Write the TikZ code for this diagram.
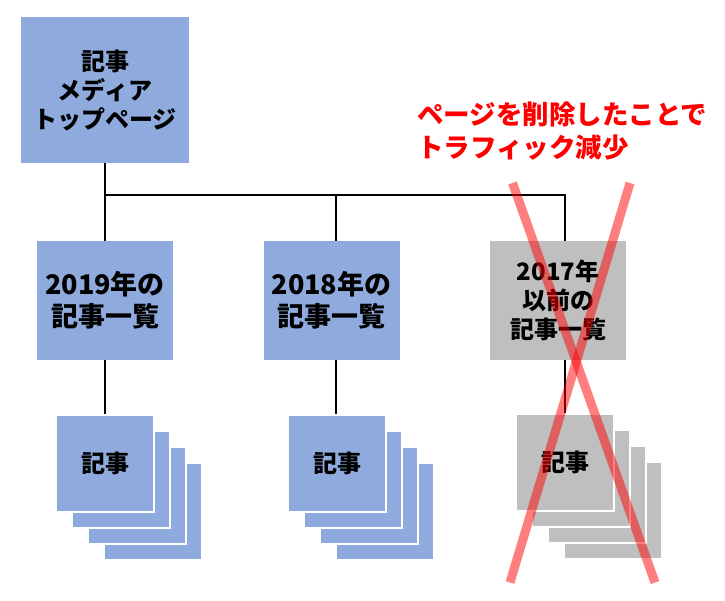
\documentclass[tikz,border=0pt]{standalone}
\usepackage{fontspec}
\setmainfont{Noto Sans CJK JP}
\definecolor{boxblue}{HTML}{8FAADC}
\definecolor{boxgray}{HTML}{BFBFBF}
\definecolor{xred}{HTML}{FF0000}
\begin{document}
\begin{tikzpicture}[x=1pt,y=-1pt,
  box/.style={fill=#1,draw=none,inner sep=0pt,align=center,font=\bfseries\fontsize{24}{29}\selectfont},
  sheet/.style={fill=#1,draw=white,line width=1.2pt,minimum width=98pt,minimum height=97pt,inner sep=0pt,font=\bfseries\fontsize{24}{29}\selectfont},
  conn/.style={draw=black,line width=2pt},
  cross/.style={draw=xred,opacity=0.5,line width=9pt}]
\useasboundingbox (0,0) rectangle (725,600);
% top node
\node[box=boxblue,minimum width=168pt,minimum height=146pt] (top) at (105,90) {記事\\メディア\\トップページ};
% middle nodes
\node[box=boxblue,minimum width=136pt,minimum height=119pt,font=\bfseries\fontsize{27}{32}\selectfont] (m1) at (105,300.5) {2019年の\\記事一覧};
\node[box=boxblue,minimum width=136pt,minimum height=119pt,font=\bfseries\fontsize{27}{32}\selectfont] (m2) at (331.5,300.5) {2018年の\\記事一覧};
\node[box=boxgray,minimum width=136pt,minimum height=119pt] (m3) at (558,300.5) {2017年\\以前の\\記事一覧};
% stacks
\foreach \cx/\cy/\col/\nm in {105/463.5/boxblue/a1, 337/463.5/boxblue/a2, 565/462.5/boxgray/a3}{
  \node[sheet=\col] (\nm c) at (\cx+48,\cy+48) {};
  \node[sheet=\col] (\nm b) at (\cx+32,\cy+32) {};
  \node[sheet=\col] (\nm a) at (\cx+16,\cy+16) {};
  \node[sheet=\col] (\nm) at (\cx,\cy) {記事};
}
% connectors
\coordinate (j1) at (105,195);
\coordinate (j2) at (336,195);
\coordinate (j3) at (565,195);
\draw[conn] (top.south) -- (m1.north);
\draw[conn] (j1) -- (j3) -- ([xshift=7pt]m3.north);
\draw[conn] (j2) -- ([xshift=4.5pt]m2.north);
\draw[conn] (m1.south) -- (a1.north);
\draw[conn] ([xshift=4.5pt]m2.south) -- ([xshift=-1pt]a2.north);
\draw[conn] ([xshift=7pt]m3.south) -- (a3.north);
% red text
\node[anchor=west,text=xred,align=left,inner sep=0pt,font=\bfseries\fontsize{26.5}{33}\selectfont] (note) at (417,131) {ページを削除したことで\\トラフィック減少};
% cross
\coordinate (x1) at (512.5,183);
\coordinate (x2) at (655,582.5);
\coordinate (x3) at (630,183);
\coordinate (x4) at (510,582.5);
\draw[cross] (x1) -- (x2);
\draw[cross] (x3) -- (x4);
\end{tikzpicture}
\end{document}
